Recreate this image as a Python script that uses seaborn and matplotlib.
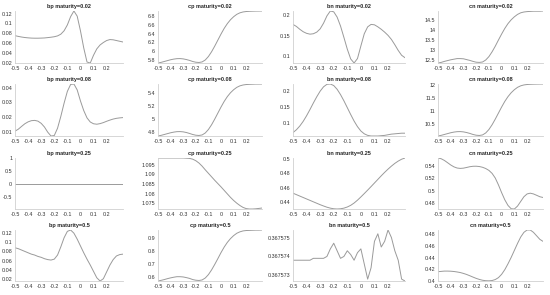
import numpy as np
import pandas as pd
import matplotlib
matplotlib.use('Agg')
import matplotlib.pyplot as plt
import seaborn as sns

# moneyness grid shared by every panel
moneyness = [-0.5, -0.475, -0.45, -0.425, -0.4, -0.375, -0.35, -0.325, -0.3, -0.275,
             -0.25, -0.225, -0.2, -0.175, -0.15, -0.125, -0.1, -0.075, -0.05, -0.025,
             0.0, 0.025, 0.05, 0.075, 0.1, 0.125, 0.15, 0.175, 0.2, 0.225,
             0.25, 0.275, 0.3, 0.325]

maturities = ['0.02', '0.08', '0.25', '0.5']
kinds = ['bp', 'cp', 'bn', 'cn']

# row 1: maturity=0.02
bp_002 = [0.075, 0.0735, 0.0722, 0.0712, 0.0705, 0.070, 0.0698, 0.0698, 0.070, 0.0703,
          0.071, 0.0718, 0.0728, 0.0745, 0.078, 0.085, 0.097, 0.114, 0.1255, 0.115,
          0.085, 0.05, 0.021, 0.019, 0.035, 0.048, 0.056, 0.061, 0.065, 0.067,
          0.0665, 0.065, 0.0635, 0.062]
cp_002 = [5.72, 5.735, 5.755, 5.775, 5.795, 5.81, 5.82, 5.822, 5.815, 5.80,
          5.78, 5.755, 5.738, 5.732, 5.745, 5.79, 5.87, 5.98, 6.11, 6.25,
          6.39, 6.52, 6.63, 6.72, 6.79, 6.845, 6.88, 6.90, 6.91, 6.915,
          6.918, 6.92, 6.921, 6.922]
bn_002 = [0.178, 0.173, 0.166, 0.160, 0.156, 0.154, 0.155, 0.159, 0.167, 0.181,
          0.199, 0.211, 0.209, 0.196, 0.174, 0.146, 0.117, 0.093, 0.083, 0.094,
          0.125, 0.155, 0.172, 0.178, 0.177, 0.172, 0.166, 0.159, 0.151, 0.141,
          0.128, 0.114, 0.102, 0.096]
cn_002 = [12.33, 12.36, 12.41, 12.45, 12.49, 12.52, 12.55, 12.55, 12.54, 12.50,
          12.46, 12.41, 12.37, 12.36, 12.38, 12.48, 12.65, 12.89, 13.17, 13.48,
          13.78, 14.06, 14.30, 14.49, 14.64, 14.76, 14.84, 14.88, 14.90, 14.91,
          14.92, 14.92, 14.92, 14.93]

# row 2: maturity=0.08
bp_008 = [0.0105, 0.0118, 0.0137, 0.0155, 0.0168, 0.0176, 0.0178, 0.0173, 0.0158, 0.0133,
          0.0098, 0.0072, 0.0075, 0.0125, 0.0205, 0.0295, 0.0375, 0.0422, 0.0425, 0.0385,
          0.031, 0.0245, 0.0195, 0.0167, 0.0155, 0.0152, 0.0156, 0.0163, 0.0172, 0.018,
          0.0187, 0.0192, 0.0195, 0.0197]
cp_008 = [4.74, 4.75, 4.763, 4.776, 4.789, 4.799, 4.806, 4.807, 4.803, 4.793,
          4.779, 4.763, 4.752, 4.748, 4.756, 4.786, 4.839, 4.911, 4.997, 5.089,
          5.181, 5.266, 5.339, 5.398, 5.444, 5.48, 5.503, 5.516, 5.523, 5.526,
          5.528, 5.53, 5.53, 5.531]
bn_008 = [0.068, 0.077, 0.089, 0.104, 0.122, 0.142, 0.163, 0.183, 0.201, 0.215,
          0.223, 0.224, 0.219, 0.207, 0.190, 0.170, 0.148, 0.126, 0.105, 0.087,
          0.073, 0.064, 0.059, 0.057, 0.057, 0.057, 0.058, 0.059, 0.061, 0.063,
          0.064, 0.065, 0.066, 0.066]
cn_008 = [10.05, 10.075, 10.108, 10.141, 10.174, 10.199, 10.215, 10.218, 10.207, 10.182,
          10.149, 10.108, 10.08, 10.07, 10.091, 10.166, 10.298, 10.479, 10.694, 10.925,
          11.156, 11.37, 11.552, 11.70, 11.816, 11.906, 11.964, 11.997, 12.014, 12.022,
          12.027, 12.03, 12.032, 12.033]

# row 3: maturity=0.25
bp_025 = [0.0] * 34
cp_025 = [1.0984, 1.0984, 1.0984, 1.0984, 1.0984, 1.0984, 1.0984, 1.0984, 1.0984, 1.0983,
          1.0982, 1.0978, 1.0970, 1.0958, 1.0942, 1.0923, 1.0905, 1.0887, 1.0869, 1.0852,
          1.0835, 1.0817, 1.0799, 1.0781, 1.0765, 1.0751, 1.0739, 1.0729, 1.0723, 1.0721,
          1.0721, 1.0722, 1.0724, 1.0726]
bn_025 = [0.4525, 0.4505, 0.4485, 0.4465, 0.4445, 0.4425, 0.4405, 0.4385, 0.4365, 0.4347,
          0.4330, 0.4317, 0.4308, 0.4305, 0.4308, 0.4317, 0.4333, 0.4356, 0.4388, 0.4428,
          0.4473, 0.4520, 0.4568, 0.4617, 0.4667, 0.4717, 0.4767, 0.4815, 0.4860, 0.4902,
          0.4940, 0.4972, 0.4998, 0.5015]
cn_025 = [0.5527, 0.5515, 0.5488, 0.5452, 0.5415, 0.5385, 0.5366, 0.5360, 0.5364, 0.5375,
          0.5387, 0.5394, 0.5395, 0.5390, 0.5378, 0.5358, 0.5328, 0.5280, 0.5205, 0.5095,
          0.4970, 0.4855, 0.4765, 0.4712, 0.4708, 0.4755, 0.4830, 0.4905, 0.4950, 0.4962,
          0.4950, 0.4928, 0.4905, 0.4893]

# row 4: maturity=0.5
bp_05 = [0.088, 0.086, 0.083, 0.080, 0.077, 0.074, 0.072, 0.069, 0.067, 0.064,
         0.062, 0.061, 0.063, 0.072, 0.090, 0.110, 0.124, 0.127, 0.120, 0.107,
         0.092, 0.077, 0.063, 0.050, 0.036, 0.022, 0.015, 0.020, 0.035, 0.050,
         0.062, 0.070, 0.073, 0.074]
cp_05 = [0.570, 0.575, 0.581, 0.588, 0.594, 0.599, 0.603, 0.603, 0.601, 0.596,
         0.590, 0.581, 0.576, 0.574, 0.578, 0.593, 0.619, 0.655, 0.697, 0.742,
         0.788, 0.830, 0.866, 0.895, 0.918, 0.936, 0.947, 0.954, 0.957, 0.958,
         0.959, 0.960, 0.960, 0.961]
bn_05 = [0.3675738, 0.3675738, 0.3675738, 0.3675738, 0.3675738, 0.3675738, 0.3675739, 0.3675739, 0.3675739, 0.3675739,
         0.3675740, 0.3675744, 0.3675747, 0.3675743, 0.3675739, 0.3675740, 0.3675743, 0.3675741, 0.3675738, 0.3675742,
         0.3675744, 0.3675736, 0.3675728, 0.3675734, 0.3675748, 0.3675752, 0.3675745, 0.3675748, 0.3675754, 0.3675750,
         0.3675743, 0.3675738, 0.3675728, 0.3675727]
cn_05 = [0.416, 0.4165, 0.417, 0.417, 0.4168, 0.4163, 0.4155, 0.4145, 0.413, 0.4112,
         0.409, 0.4067, 0.4045, 0.4027, 0.4013, 0.4005, 0.4003, 0.4008, 0.4025, 0.4058,
         0.4115, 0.4195, 0.4295, 0.4405, 0.4525, 0.4645, 0.4755, 0.4835, 0.4875, 0.4875,
         0.4835, 0.4775, 0.4715, 0.468]

series = {
    ('bp', '0.02'): bp_002, ('cp', '0.02'): cp_002, ('bn', '0.02'): bn_002, ('cn', '0.02'): cn_002,
    ('bp', '0.08'): bp_008, ('cp', '0.08'): cp_008, ('bn', '0.08'): bn_008, ('cn', '0.08'): cn_008,
    ('bp', '0.25'): bp_025, ('cp', '0.25'): cp_025, ('bn', '0.25'): bn_025, ('cn', '0.25'): cn_025,
    ('bp', '0.5'): bp_05, ('cp', '0.5'): cp_05, ('bn', '0.5'): bn_05, ('cn', '0.5'): cn_05,
}

# y tick labels as printed on the chart
yticks = {
    ('bp', '0.02'): [0.02, 0.04, 0.06, 0.08, 0.1, 0.12],
    ('cp', '0.02'): [5.8, 6, 6.2, 6.4, 6.6, 6.8],
    ('bn', '0.02'): [0.1, 0.15, 0.2],
    ('cn', '0.02'): [12.5, 13, 13.5, 14, 14.5],
    ('bp', '0.08'): [0.01, 0.02, 0.03, 0.04],
    ('cp', '0.08'): [4.8, 5, 5.2, 5.4],
    ('bn', '0.08'): [0.1, 0.15, 0.2],
    ('cn', '0.08'): [10.5, 11, 11.5, 12],
    ('bp', '0.25'): [-0.5, 0, 0.5, 1],
    ('cp', '0.25'): [1.075, 1.08, 1.085, 1.09, 1.095],
    ('bn', '0.25'): [0.44, 0.46, 0.48, 0.5],
    ('cn', '0.25'): [0.48, 0.5, 0.52, 0.54],
    ('bp', '0.5'): [0.02, 0.04, 0.06, 0.08, 0.1, 0.12],
    ('cp', '0.5'): [0.6, 0.7, 0.8, 0.9],
    ('bn', '0.5'): [0.367573, 0.367574, 0.367575],
    ('cn', '0.5'): [0.4, 0.42, 0.44, 0.46, 0.48],
}
xticks = [-0.5, -0.4, -0.3, -0.2, -0.1, 0, 0.1, 0.2]

# axes boxes in pixels (left, right) per column and (top, bottom) per row
col_px = [(15, 123), (158, 262), (293, 405), (438, 543)]
row_px = [(11, 63), (84, 136), (158, 209), (230, 281)]

W, H = 550, 295


def fmt(v):
    s = ('%.6f' % v).rstrip('0').rstrip('.')
    return '0' if s in ('-0', '') else s


def main():
    sns.set_style('white')
    plt.rcParams['font.family'] = ['Liberation Sans', 'DejaVu Sans']
    fig = plt.figure(figsize=(W / 100, H / 100), dpi=100)

    for r, mat in enumerate(maturities):
        for c, kind in enumerate(kinds):
            l, rr = col_px[c]
            t, b = row_px[r]
            ax = fig.add_axes([l / W, 1 - b / H, (rr - l) / W, (b - t) / H])
            vals = series[(kind, mat)]
            df = pd.DataFrame({'x': moneyness, 'y': vals})
            sns.lineplot(data=df, x='x', y='y', ax=ax, color='#9a9a9a', linewidth=0.7)
            ax.set_xlim(moneyness[0], moneyness[-1])
            if kind == 'bp' and mat == '0.25':
                ax.set_ylim(-0.95, 1)
            else:
                ax.set_ylim(min(vals), max(vals))
            ax.set_xticks(xticks)
            ax.set_xticklabels([fmt(v) for v in xticks])
            yt = yticks[(kind, mat)]
            ax.set_yticks(yt)
            ax.set_yticklabels([fmt(v) for v in yt])
            ax.tick_params(axis='both', labelsize=3.9, length=0, pad=2, colors='#333333')
            ax.set_xlabel('')
            ax.set_ylabel('')
            ax.set_title(f'{kind} maturity={mat}', fontsize=4.0, fontweight='bold', pad=2.5)
            for side in ['top', 'right']:
                ax.spines[side].set_visible(False)
            for side in ['left', 'bottom']:
                ax.spines[side].set_color('#d0d0d0')
                ax.spines[side].set_linewidth(0.6)

    fig.savefig('out.png', dpi=100)
    plt.close(fig)


if __name__ == '__main__':
    main()
